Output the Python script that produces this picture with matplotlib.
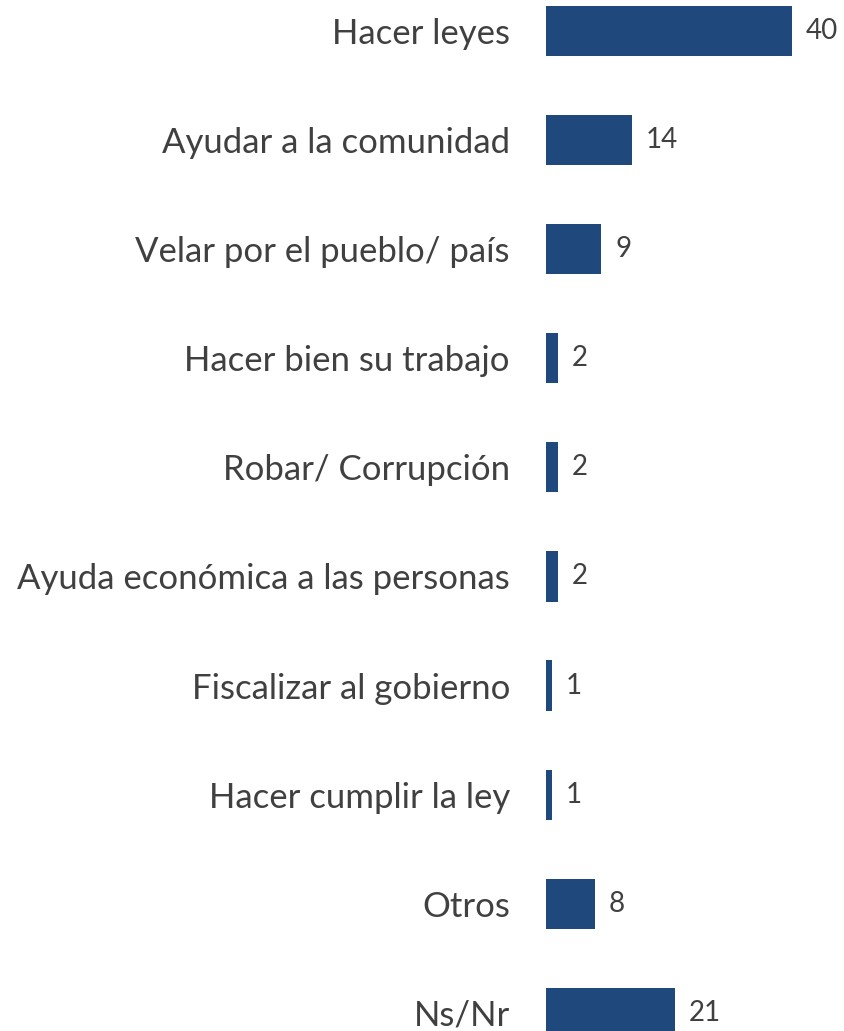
import matplotlib.pyplot as plt

categories = [
    "Hacer leyes",
    "Ayudar a la comunidad",
    "Velar por el pueblo/ país",
    "Hacer bien su trabajo",
    "Robar/ Corrupción",
    "Ayuda económica a las personas",
    "Fiscalizar al gobierno",
    "Hacer cumplir la ley",
    "Otros",
    "Ns/Nr",
]
values = [40, 14, 9, 2, 2, 2, 1, 1, 8, 21]

bar_color = "#1F497D"
text_color = "#404040"

plt.rcParams["font.family"] = ["Lato", "DejaVu Sans"]

fig = plt.figure(figsize=(8.45, 10.31), dpi=100)
# axes placed so that x=0 sits where the bars start; labels live to the left
ax = fig.add_axes([546 / 845, 0, 295 / 845, 1])

pos = list(range(len(categories)))
ax.barh(pos, values, height=0.46, color=bar_color)
ax.set_xlim(0, 48)
ax.set_ylim(9.166, -0.284)

ax.set_yticks(pos)
ax.set_yticklabels(categories, fontsize=25, color=text_color)
ax.tick_params(axis="y", length=0, pad=26)
ax.set_xticks([])
for s in ax.spines.values():
    s.set_visible(False)

for y, v in zip(pos, values):
    ax.annotate(str(v), (v, y), xytext=(10, 0), textcoords="offset points",
                va="center", ha="left", fontsize=20, color=text_color)

fig.savefig("out.png", dpi=100, facecolor="white")
